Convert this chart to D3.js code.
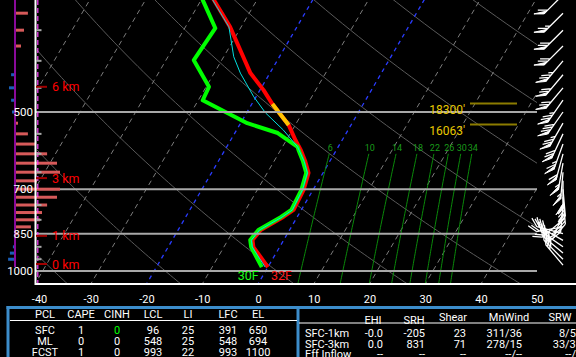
<!DOCTYPE html>
<html><head><meta charset="utf-8">
<script src="https://cdn.jsdelivr.net/npm/d3@7"></script>
<style>
html,body{margin:0;padding:0;background:#000;}
svg{display:block;}
text{font-family:Roboto,"Noto Sans",sans-serif;}
</style></head>
<body>
<svg id="c" width="576" height="357"></svg>
<script>
// ---------------- data ----------------
const pressureLevels = [500, 700, 850, 1000];
const pressureMinor = [350, 400, 450, 550, 600, 650, 750, 800, 900, 950];
const xTicks = [-40, -30, -20, -10, 0, 10, 20, 30, 40, 50];
const isoTemps = d3.range(-130, 60, 10);
const highlightIsotherms = [0, -20];
const dryAdiabatThetas = d3.range(-78, 240, 20);
const mixingRatios = [6, 10, 14, 18, 22, 26, 30, 34];

const tempPres = [300, 307, 345, 382, 422, 454, 483, 529, 565, 590, 620, 652, 702, 766, 790, 836, 874, 901, 983];
const tempVal  = [-38.8, -37.7, -32.0, -27.7, -23.5, -19.4, -16.3, -11.2, -8.4, -6.4, -4.4, -2.6, -1.7, -1.4, -2.5, -5.2, -5.6, -4.7, 0.0];
const dewPres  = [300, 307, 347, 399, 448, 475, 525, 548, 582, 590, 620, 652, 702, 766, 790, 836, 874, 901, 983];
const dewVal   = [-40.6, -39.7, -34.5, -35.0, -29.5, -29.2, -18.8, -12.3, -7.3, -6.8, -4.8, -3.0, -2.1, -1.8, -2.9, -5.6, -6.0, -5.1, -1.1];
const wetPres  = [300, 307, 345, 393, 422, 468, 502, 541, 582, 620, 652, 702, 766, 790, 836, 874, 901, 983];
const wetVal   = [-38.8, -37.9, -32.2, -28.2, -25.3, -20.4, -16.6, -11.6, -7.3, -4.6, -2.8, -1.9, -1.6, -2.7, -5.4, -5.8, -4.9, -0.5];
const dgzPres = [529, 483];
const dgzLabels = ["16063'", "18300'"];
const sfcLabels = ["32F", "30F"];

const heightLabels = ["0 km", "1 km", "3 km", "6 km"];
const heightPres = [970, 858, 667, 448];

const omegaPres = [325,350,375,400,425,450,475,500,525,550,575,600,625,650,675,700,725,750,775,800,825,850,900,925,950];
const omegaVal  = [4.3,3.0,2.0,0.3,-1.3,-2.0,-1.3,-1.0,1.0,4.3,7.0,10.7,14.0,15.0,7.3,15.0,14.0,10.7,9.0,8.3,5.3,1.0,-0.7,-1.7,-2.3];

const windPres = [300,325,350,375,400,425,450,475,500,525,550,575,600,625,650,675,700,725,750,775,800,825,850,875,900,925,950,975];
const windDir  = [225,225,225,225,220,220,220,215,215,210,205,200,195,190,185,180,175,175,185,200,230,260,285,300,305,310,315,320];
const windSpd  = [60,65,70,70,75,70,70,75,80,75,70,65,60,55,55,50,45,40,30,25,20,20,25,30,35,40,40,30];

const leftHeader = ["PCL","CAPE","CINH","LCL","LI","LFC","EL"];
const leftRows = [
  ["SFC","1","0","96","25","391","650"],
  ["ML","0","0","548","25","548","694"],
  ["FCST","1","0","993","22","993","1100"]
];
const rightHeader = ["EHI","SRH","Shear","MnWind","SRW"];
const rightRowLabels = ["SFC-1km","SFC-3km","Eff Inflow"];
const rightRows = [
  ["-0.0","-205","23","311/36","8/52"],
  ["0.0","831","71","278/15","33/36"],
  ["--","--","--","--/--","--/--"]
];

// ---------------- layout ----------------
const svg = d3.select("#c");
const plotL = 36, plotR = 537, plotT = 0, plotB = 284;
const y = d3.scaleLog().domain([1000, 500]).range([271, 112]);
const x = d3.scaleLinear().domain([-40, 50]).range([258 - 40 * 5.574, 258 + 50 * 5.574]);
const skew = 0.585;
const pBot = y.invert(plotB + 2), pTop = 280;
const sx = (T, p) => x(T) + skew * (plotB - y(p));

svg.append("rect").attr("width", 576).attr("height", 357).attr("fill", "#000");
svg.append("defs").append("clipPath").attr("id", "clip")
  .append("rect").attr("x", plotL + 1).attr("y", plotT).attr("width", plotR - plotL - 1).attr("height", plotB - plotT);
const g = svg.append("g").attr("clip-path", "url(#clip)");

const line = d3.line().x(d => sx(d[0], d[1])).y(d => y(d[1]));

// dry adiabats
const pSamples = d3.range(1080, 270, -10);
dryAdiabatThetas.forEach(th => {
  const pts = pSamples.map(p => [(th + 273.15) * Math.pow(p / 1000, 0.2857) - 273.15, p]);
  g.append("path").attr("d", line(pts)).attr("fill", "none").attr("stroke", "#5a5a5a").attr("stroke-width", 1);
});
// isotherms
isoTemps.forEach(T => {
  const hl = highlightIsotherms.includes(T);
  g.append("path").attr("d", line([[T, pBot], [T, pTop]])).attr("fill", "none")
    .attr("stroke", hl ? "#2a3cff" : "#7c7c7c").attr("stroke-width", hl ? 1.3 : 1)
    .attr("stroke-dasharray", hl ? "4,4" : "5,4");
});
// mixing ratio lines
const tdFromW = (w, p) => { const e = w * p / (622 + w); const l = Math.log(e / 6.112); return 243.5 * l / (17.67 - l); };
mixingRatios.forEach(w => {
  const pts = d3.range(pBot, 599, -10).concat([600]).map(p => [tdFromW(w, p), p]);
  g.append("path").attr("d", line(pts)).attr("fill", "none").attr("stroke", "#0a8a0a").attr("stroke-width", 1);
  g.append("text").attr("x", sx(tdFromW(w, 600), 600) + 1).attr("y", y(600) - 2.5)
    .attr("text-anchor", "middle").attr("font-size", 9).attr("fill", "#1a9a1a").text(w);
});
// pressure lines
pressureLevels.forEach(p => {
  svg.append("line").attr("x1", plotL).attr("x2", plotR).attr("y1", y(p)).attr("y2", y(p))
    .attr("stroke", "#a8a8a8").attr("stroke-width", 2);
});

// traces
const zip = (P, V) => P.map((p, i) => [V[i], p]);
g.append("path").attr("d", line(zip(tempPres, tempVal))).attr("fill", "none").attr("stroke", "#ff0000").attr("stroke-width", 4).attr("stroke-linejoin", "round");
const dgz = zip(tempPres, tempVal).filter(d => d[1] <= dgzPres[0] && d[1] >= dgzPres[1]);
g.append("path").attr("d", line(dgz)).attr("fill", "none").attr("stroke", "#ffc400").attr("stroke-width", 4);
g.append("path").attr("d", line(zip(dewPres, dewVal))).attr("fill", "none").attr("stroke", "#00ff00").attr("stroke-width", 4).attr("stroke-linejoin", "round");
g.append("path").attr("d", line(zip(wetPres, wetVal))).attr("fill", "none").attr("stroke", "#00dede").attr("stroke-width", 1);

// surface labels
const ps = tempPres[tempPres.length - 1];
svg.append("text").attr("x", sx(tempVal[tempVal.length - 1], ps) + 3).attr("y", y(ps) + 13)
  .attr("font-size", 12.5).attr("fill", "#ff1a1a").text(sfcLabels[0]);
svg.append("text").attr("x", sx(dewVal[dewVal.length - 1], ps) - 3).attr("y", y(ps) + 13)
  .attr("text-anchor", "end").attr("font-size", 12.5).attr("fill", "#1aff1a").text(sfcLabels[1]);

// DGZ labels
dgzPres.forEach((p, i) => {
  svg.append("line").attr("x1", 470).attr("x2", 517).attr("y1", y(p) - 0.5).attr("y2", y(p) - 0.5)
    .attr("stroke", "#8c7c00").attr("stroke-width", 2);
  svg.append("text").attr("x", 465).attr("y", y(p) + 10).attr("text-anchor", "end")
    .attr("font-size", 12).attr("fill", "#e8c800").text(dgzLabels[i]);
});

// omega profile
const om = d3.scaleLinear().domain([0, 15]).range([15, 60]);
omegaPres.forEach((p, i) => {
  const v = omegaVal[i];
  const x0 = om(0), x1 = om(v);
  svg.append("rect").attr("x", Math.min(x0, x1)).attr("y", y(p) - 1.5)
    .attr("width", Math.abs(x1 - x0)).attr("height", 3)
    .attr("fill", v >= 0 ? "#d65a5a" : "#1a5fb8");
});
svg.append("line").attr("x1", 15).attr("x2", 15).attr("y1", 0).attr("y2", 267).attr("stroke", "#8a0a9a").attr("stroke-width", 2);

// border
svg.append("line").attr("x1", 35.5).attr("x2", 35.5).attr("y1", 0).attr("y2", plotB + 1).attr("stroke", "#fff").attr("stroke-width", 2);
svg.append("line").attr("x1", 37.8).attr("x2", 37.8).attr("y1", 0).attr("y2", plotB).attr("stroke", "#ff40ff").attr("stroke-width", 1.2).attr("stroke-dasharray", "5,3");
svg.append("line").attr("x1", 35).attr("x2", 576).attr("y1", plotB).attr("y2", plotB).attr("stroke", "#fff").attr("stroke-width", 2);

// minor pressure ticks
pressureMinor.forEach(p => {
  svg.append("line").attr("x1", 36).attr("x2", 41.5).attr("y1", y(p)).attr("y2", y(p)).attr("stroke", "#a8a8a8").attr("stroke-width", 2);
});
// height ticks
heightPres.forEach((p, i) => {
  svg.append("line").attr("x1", 36).attr("x2", 47).attr("y1", y(p)).attr("y2", y(p)).attr("stroke", "#a00000").attr("stroke-width", 2);
  svg.append("text").attr("x", 52).attr("y", y(p) + 4.5).attr("font-size", 12.5).attr("fill", "#ff0000").text(heightLabels[i]);
});

// axes
const ax = svg.append("g").attr("transform", `translate(0,${plotB})`)
  .call(d3.axisBottom(x).tickValues(xTicks).tickSize(0).tickPadding(11).tickFormat(d => String(d)));
ax.select(".domain").remove();
ax.selectAll("text").attr("fill", "#fff").attr("font-size", 11).attr("font-family", "Roboto")
  .attr("dx", d => d === xTicks[0] ? 4 : 0);
const ay = svg.append("g").attr("transform", "translate(34,0)")
  .call(d3.axisLeft(y).tickValues(pressureLevels).tickSize(0).tickPadding(1).tickFormat(d3.format("d")));
ay.select(".domain").remove();
ay.selectAll("text").attr("fill", "#fff").attr("font-size", 11.5).attr("font-family", "Roboto");

// wind barbs
function barb(cx, cy, dir, spd) {
  const r = dir * Math.PI / 180;
  const ux = Math.sin(r), uy = -Math.cos(r);
  const L = 27, bl = 10, sp = 3.2;
  const nx = -uy, ny = ux;
  const c = Math.cos(Math.PI / 4), s4 = Math.sin(Math.PI / 4);
  const tx = nx * c + ux * s4, ty = ny * c + uy * s4;
  let s = Math.round(spd / 5) * 5;
  const flags = Math.floor(s / 50); s -= flags * 50;
  const full = Math.floor(s / 10); s -= full * 10;
  const half = s >= 5 ? 1 : 0;
  let d = `M${cx},${cy}L${cx + ux * L},${cy + uy * L}`;
  let pos = L;
  const pt = (t) => [cx + ux * t, cy + uy * t];
  const tk = svg.append("g");
  for (let i = 0; i < flags; i++) {
    const a = pt(pos), b = pt(pos - 4);
    tk.append("path").attr("d", `M${a[0]},${a[1]}L${a[0] + tx * bl},${a[1] + ty * bl}L${b[0]},${b[1]}Z`)
      .attr("fill", "#fff").attr("stroke", "#fff").attr("stroke-width", 1);
    pos -= 5.5;
  }
  for (let i = 0; i < full; i++) {
    const a = pt(pos);
    d += `M${a[0]},${a[1]}L${a[0] + tx * bl},${a[1] + ty * bl}`;
    pos -= sp;
  }
  if (half) {
    if (flags + full === 0) pos -= sp;
    const a = pt(pos);
    d += `M${a[0]},${a[1]}L${a[0] + tx * bl * 0.5},${a[1] + ty * bl * 0.5}`;
  }
  tk.append("path").attr("d", d).attr("fill", "none").attr("stroke", "#fff").attr("stroke-width", 1.3);
}
windPres.forEach((p, i) => barb(563, y(p), windDir[i], windSpd[i]));

// table
const blue = "#3c8dcb";
svg.append("line").attr("x1", 6.5).attr("x2", 576).attr("y1", 307.5).attr("y2", 307.5).attr("stroke", blue).attr("stroke-width", 3);
svg.append("line").attr("x1", 8).attr("x2", 8).attr("y1", 306).attr("y2", 357).attr("stroke", blue).attr("stroke-width", 3);
svg.append("line").attr("x1", 298).attr("x2", 298).attr("y1", 306).attr("y2", 357).attr("stroke", blue).attr("stroke-width", 3);
svg.append("line").attr("x1", 10).attr("x2", 297).attr("y1", 320.5).attr("y2", 320.5).attr("stroke", "#fff").attr("stroke-width", 1.2);
svg.append("line").attr("x1", 299).attr("x2", 576).attr("y1", 323).attr("y2", 323).attr("stroke", "#fff").attr("stroke-width", 1.2);

const leftX = [45, 81, 117, 153, 188, 228, 258];
leftHeader.forEach((h, i) => svg.append("text").attr("x", leftX[i]).attr("y", 318).attr("text-anchor", "middle").attr("font-size", 11).attr("fill", "#fff").text(h));
leftRows.forEach((row, r) => row.forEach((v, i) => {
  svg.append("text").attr("x", leftX[i]).attr("y", 334 + r * 11).attr("text-anchor", "middle").attr("font-size", 11)
    .attr("fill", (r === 0 && i === 2) ? "#00ff00" : "#fff").text(v);
}));

const rhX = [373, 414, 453, 509, 560];
const rhY = [324, 324, 321, 321, 321];
rightHeader.forEach((h, i) => svg.append("text").attr("x", rhX[i]).attr("y", rhY[i]).attr("text-anchor", "middle").attr("font-size", 11).attr("fill", "#fff").text(h));
const rvX = [383, 425, 466, 522, 582];
rightRowLabels.forEach((l, r) => svg.append("text").attr("x", 305).attr("y", 337 + r * 10.5).attr("font-size", 11).attr("fill", "#fff").text(l));
rightRows.forEach((row, r) => row.forEach((v, i) => {
  svg.append("text").attr("x", rvX[i]).attr("y", 337 + r * 10.5).attr("text-anchor", "end").attr("font-size", 11).attr("fill", "#fff").text(v);
}));
</script>
</body></html>
